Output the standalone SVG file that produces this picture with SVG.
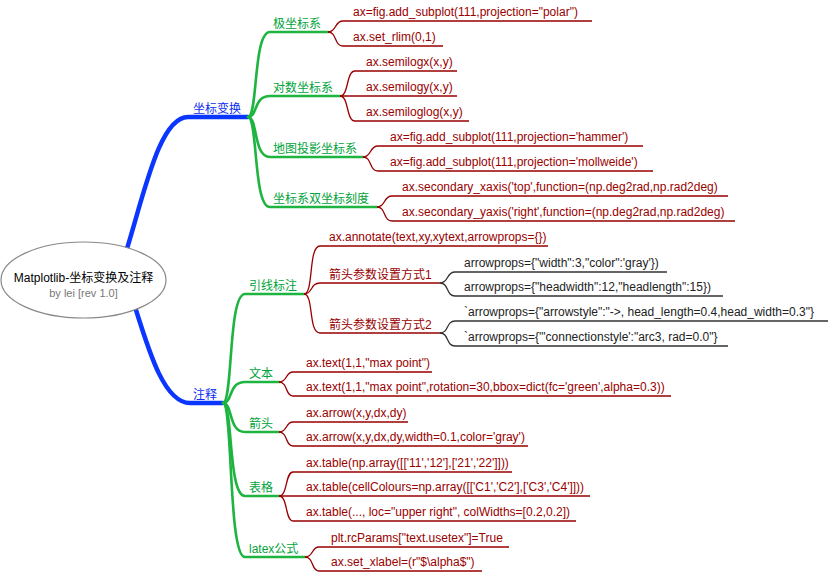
<svg xmlns="http://www.w3.org/2000/svg" width="828" height="572" viewBox="0 0 828 572">
<style>
text{font-family:"Liberation Sans",Arial,"Noto Sans CJK SC",sans-serif;font-size:12px}
.t0{fill:#000;font-size:12px}
.sub{fill:#777;font-size:11px}
.t1{fill:#0a2cf0}
.t2{fill:#00a33a}
.t3{fill:#990000}
.t4{fill:#222}
.c1{fill:none;stroke:#0a36ff;stroke-width:4.5;stroke-linecap:round}
.c2{fill:none;stroke:#1db440;stroke-width:2.6;stroke-linecap:round}
.c3{fill:none;stroke:#990000;stroke-width:1.3}
.c4{fill:none;stroke:#333;stroke-width:1.3}
</style>
<rect width="828" height="572" fill="#fff"/>
<g id="connectors">
<path class="c1" d="M126,252 C145,190 160,117 188,117 L248,117"/>
<path class="c1" d="M136,310 C150,355 165,403 190,403 L223,403"/>
<path class="c2" d="M248,117 C258,117 253,32 270,32 L328,32"/>
<path class="c2" d="M248,117 C258,117 253,96 270,96 L340,96"/>
<path class="c2" d="M248,117 C258,117 253,157 270,157 L363,157"/>
<path class="c2" d="M248,117 C258,117 253,207 270,207 L377,207"/>
<path class="c2" d="M223,403 C233,403 228,294 245,294 L304,294"/>
<path class="c2" d="M223,403 C233,403 228,382 245,382 L279,382"/>
<path class="c2" d="M223,403 C233,403 228,432 245,432 L279,432"/>
<path class="c2" d="M223,403 C233,403 228,496 245,496 L279,496"/>
<path class="c2" d="M223,403 C233,403 228,557 245,557 L305,557"/>
<path class="c3" d="M328,32 C337,32 334,21 343,21 L592,21"/>
<path class="c3" d="M328,32 C337,32 334,46 343,46 L443,46"/>
<path class="c3" d="M340,96 C349,96 346,71 355,71 L457,71"/>
<path class="c3" d="M340,96 L457,96"/>
<path class="c3" d="M340,96 C349,96 346,121 355,121 L469,121"/>
<path class="c3" d="M363,157 C372,157 369,146 378,146 L643,146"/>
<path class="c3" d="M363,157 C372,157 369,171 378,171 L653,171"/>
<path class="c3" d="M377,207 C386,207 383,196 392,196 L728,196"/>
<path class="c3" d="M377,207 C386,207 383,221 392,221 L735,221"/>
<path class="c3" d="M304,294 C314,294 308,246 320,246 L548,246"/>
<path class="c3" d="M304,294 C313,294 310,283 320,283 L440,283"/>
<path class="c3" d="M304,294 C314,294 308,333 320,333 L440,333"/>
<path class="c4" d="M440,283 C449,283 446,272 455,272 L667,272"/>
<path class="c4" d="M440,283 C449,283 446,296 455,296 L723,296"/>
<path class="c4" d="M440,333 C449,333 446,321 455,321 L828,321"/>
<path class="c4" d="M440,333 C449,333 446,346 455,346 L728,346"/>
<path class="c3" d="M279,382 C288,382 285,372 293,372 L432,372"/>
<path class="c3" d="M279,382 C288,382 285,396 293,396 L671,396"/>
<path class="c3" d="M279,432 C288,432 285,422 293,422 L408,422"/>
<path class="c3" d="M279,432 C288,432 285,446 293,446 L528,446"/>
<path class="c3" d="M279,496 C288,496 285,472 293,472 L512,472"/>
<path class="c3" d="M279,496 L590,496"/>
<path class="c3" d="M279,496 C288,496 285,521 293,521 L576,521"/>
<path class="c3" d="M305,557 C314,557 311,547 319,547 L509,547"/>
<path class="c3" d="M305,557 C314,557 311,571 319,571 L482,571"/>
</g>
<g id="root">
<ellipse cx="83.5" cy="280" rx="82.5" ry="38" fill="#fff" stroke="#888" stroke-width="1.2"/>
<text class="t0" x="83.5" y="282" text-anchor="middle">Matplotlib-坐标变换及注释</text>
<text class="sub" x="83.5" y="297" text-anchor="middle">by lei [rev 1.0]</text>
</g>
<g id="n-zbbh"><text class="t1" x="193" y="113">坐标变换</text></g>
<g id="n-zs"><text class="t1" x="193" y="399">注释</text></g>
<g id="n-jzbx"><text class="t2" x="273" y="28">极坐标系</text></g>
<g id="n-dszbx"><text class="t2" x="273" y="92">对数坐标系</text></g>
<g id="n-dttyzbx"><text class="t2" x="273" y="153">地图投影坐标系</text></g>
<g id="n-szbkd"><text class="t2" x="273" y="203">坐标系双坐标刻度</text></g>
<g id="n-yxbz"><text class="t2" x="249" y="290">引线标注</text></g>
<g id="n-wb"><text class="t2" x="249" y="378">文本</text></g>
<g id="n-jt"><text class="t2" x="249" y="428">箭头</text></g>
<g id="n-bg"><text class="t2" x="249" y="492">表格</text></g>
<g id="n-latex"><text class="t2" x="249" y="553">latex公式</text></g>
<g id="n-polar1"><text class="t3" x="353" y="16">ax=fig.add_subplot(111,projection="polar")</text></g>
<g id="n-polar2"><text class="t3" x="353" y="41">ax.set_rlim(0,1)</text></g>
<g id="n-log1"><text class="t3" x="366" y="66">ax.semilogx(x,y)</text></g>
<g id="n-log2"><text class="t3" x="366" y="91">ax.semilogy(x,y)</text></g>
<g id="n-log3"><text class="t3" x="366" y="116">ax.semiloglog(x,y)</text></g>
<g id="n-map1"><text class="t3" x="390" y="141">ax=fig.add_subplot(111,projection='hammer')</text></g>
<g id="n-map2"><text class="t3" x="390" y="166">ax=fig.add_subplot(111,projection='mollweide')</text></g>
<g id="n-sec1"><text class="t3" x="402" y="191">ax.secondary_xaxis('top',function=(np.deg2rad,np.rad2deg)</text></g>
<g id="n-sec2"><text class="t3" x="402" y="216">ax.secondary_yaxis('right',function=(np.deg2rad,np.rad2deg)</text></g>
<g id="n-ann"><text class="t3" x="329" y="241">ax.annotate(text,xy,xytext,arrowprops={})</text></g>
<g id="n-fs1"><text class="t3" x="329" y="279">箭头参数设置方式1</text></g>
<g id="n-fs2"><text class="t3" x="329" y="329">箭头参数设置方式2</text></g>
<g id="n-ap1"><text class="t4" x="464" y="267">arrowprops={"width":3,"color":'gray'})</text></g>
<g id="n-ap2"><text class="t4" x="464" y="291">arrowprops={"headwidth":12,"headlength":15})</text></g>
<g id="n-ap3"><text class="t4" x="464" y="316">`arrowprops={"arrowstyle":"-&gt;, head_length=0.4,head_width=0.3"}</text></g>
<g id="n-ap4"><text class="t4" x="464" y="341">`arrowprops={'"connectionstyle':"arc3, rad=0.0"}</text></g>
<g id="n-txt1"><text class="t3" x="306" y="367">ax.text(1,1,"max point")</text></g>
<g id="n-txt2"><text class="t3" x="306" y="391">ax.text(1,1,"max point",rotation=30,bbox=dict(fc='green',alpha=0.3))</text></g>
<g id="n-arr1"><text class="t3" x="306" y="417">ax.arrow(x,y,dx,dy)</text></g>
<g id="n-arr2"><text class="t3" x="306" y="441">ax.arrow(x,y,dx,dy,width=0.1,color='gray')</text></g>
<g id="n-tb1"><text class="t3" x="306" y="467">ax.table(np.array([['11','12'],['21','22']]))</text></g>
<g id="n-tb2"><text class="t3" x="306" y="491">ax.table(cellColours=np.array([['C1','C2'],['C3','C4']]))</text></g>
<g id="n-tb3"><text class="t3" x="306" y="516">ax.table(..., loc="upper right", colWidths=[0.2,0.2])</text></g>
<g id="n-lx1"><text class="t3" x="331" y="542">plt.rcParams["text.usetex"]=True</text></g>
<g id="n-lx2"><text class="t3" x="331" y="566">ax.set_xlabel=(r"$\alpha$")</text></g>
</svg>
